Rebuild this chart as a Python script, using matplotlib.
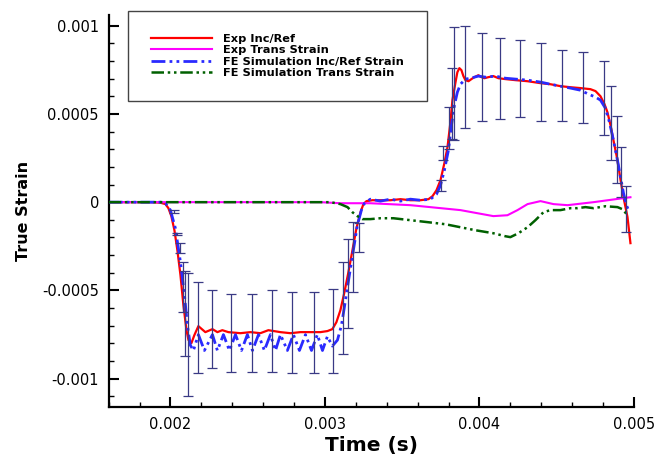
import matplotlib
matplotlib.use("Agg")
from matplotlib import pyplot as plt
from matplotlib.ticker import MultipleLocator

# Exp Inc/Ref
red_t = [0.0016, 0.00187, 0.001935, 0.001968, 0.001987, 0.002006, 0.002026, 0.002045, 0.002065, 0.002084,
         0.002104, 0.002117, 0.002136, 0.002155, 0.002181, 0.002226, 0.002272, 0.002304, 0.002336, 0.002375,
         0.002453, 0.002518, 0.002582, 0.002634, 0.002712, 0.002777, 0.002841, 0.002906, 0.002971, 0.003016,
         0.003048, 0.003074, 0.0031, 0.003126, 0.003152, 0.003178, 0.003204, 0.00323, 0.003249, 0.003269,
         0.003307, 0.003359, 0.003424, 0.003489, 0.003553, 0.003618, 0.00367, 0.003696, 0.003722, 0.003748,
         0.003773, 0.003793, 0.003812, 0.003825, 0.003845, 0.003857, 0.00387, 0.003883, 0.003896, 0.003909,
         0.003929, 0.003948, 0.003967, 0.003993, 0.004013, 0.004032, 0.004058, 0.00409, 0.004123, 0.004168,
         0.004233, 0.004311, 0.004395, 0.004459, 0.004524, 0.004589, 0.004654, 0.004718, 0.004751, 0.004783,
         0.004809, 0.004828, 0.004848, 0.004867, 0.004893, 0.004913, 0.004932, 0.004958, 0.004977]
red_e = [0, 0, -0.000003, -0.000011, -0.000034, -0.000079, -0.000159, -0.000272, -0.000413, -0.000583,
         -0.000725, -0.000781, -0.000798, -0.000753, -0.000702, -0.000736, -0.000719, -0.000736, -0.000725, -0.000736,
         -0.000742, -0.000736, -0.000742, -0.000725, -0.000736, -0.000742, -0.000736, -0.000736, -0.000736, -0.00073,
         -0.000719, -0.00068, -0.000612, -0.00051, -0.000396, -0.000272, -0.000147, -0.000057, -0.000011, 0.000006,
         0.000011, 0.000011, 0.000011, 0.000017, 0.000011, 0.000011, 0.000017, 0.000034, 0.000068, 0.000125,
         0.000221, 0.000311, 0.000453, 0.000578, 0.00068, 0.000736, 0.000759, 0.000748, 0.000714, 0.000691,
         0.000685, 0.000697, 0.000708, 0.000719, 0.000708, 0.000702, 0.000708, 0.000714, 0.000702, 0.000697,
         0.000691, 0.000685, 0.000674, 0.000668, 0.000657, 0.000651, 0.000646, 0.00064, 0.000629, 0.0006,
         0.000555, 0.00051, 0.000436, 0.000351, 0.000238, 0.000125, 0.000028, -0.000085, -0.000232]

# Exp Trans Strain
mag_t = [0.0016, 0.002971, 0.0031, 0.003294, 0.003553, 0.003877, 0.00409, 0.004181, 0.004246, 0.004311,
         0.004395, 0.004479, 0.00457, 0.004738, 0.004932, 0.004977]
mag_e = [0, 0, -0.000006, -0.000006, -0.000017, -0.000045, -0.000079, -0.000074, -0.000045, -0.000011,
         0.000006, -0.000011, -0.000017, 0, 0.000023, 0.000028]

# FE Simulation Inc/Ref Strain
fe_t = [0.0016, 0.00195, 0.001968, 0.002, 0.002032, 0.002065, 0.002091, 0.00211, 0.002129, 0.002149,
        0.002181, 0.00222, 0.002272, 0.002304, 0.002343, 0.002382, 0.002421, 0.00246, 0.002498, 0.002531,
        0.00257, 0.002608, 0.002647, 0.00268, 0.002712, 0.002757, 0.002796, 0.002835, 0.002874, 0.002913,
        0.002951, 0.002984, 0.003016, 0.003048, 0.003081, 0.003107, 0.003133, 0.003158, 0.003184, 0.00321,
        0.003236, 0.003256, 0.003294, 0.003359, 0.003424, 0.003489, 0.003553, 0.003618, 0.003683, 0.003722,
        0.003748, 0.003773, 0.003799, 0.003819, 0.003838, 0.003857, 0.003877, 0.003909, 0.003942, 0.003993,
        0.004039, 0.004103, 0.004168, 0.004233, 0.004311, 0.004395, 0.004459, 0.004524, 0.004589, 0.004654,
        0.004705, 0.004751, 0.004783, 0.004815, 0.004841, 0.004867, 0.004893, 0.004913, 0.004932, 0.004951,
        0.00497]
fe_e = [0, 0, -0.000006, -0.000045, -0.000147, -0.00034, -0.000527, -0.000697, -0.00081, -0.00084,
        -0.00075, -0.00084, -0.00075, -0.00084, -0.00075, -0.00084, -0.00075, -0.00084, -0.00075, -0.00084,
        -0.00075, -0.00084, -0.00075, -0.00084, -0.00075, -0.00084, -0.00075, -0.00084, -0.00075, -0.00084,
        -0.00075, -0.00084, -0.00076, -0.000815, -0.000781, -0.000697, -0.000555, -0.000413, -0.000272, -0.00013,
        -0.000045, -0.000006, 0.000017, 0.000006, 0.000017, 0.000006, 0.000017, 0.000011, 0.000017, 0.000045,
        0.000096, 0.000181, 0.000294, 0.000436, 0.000549, 0.000623, 0.000668, 0.000697, 0.000702, 0.000714,
        0.000708, 0.000714, 0.000702, 0.000697, 0.000691, 0.00068, 0.000668, 0.000657, 0.000646, 0.000634,
        0.000612, 0.000595, 0.000578, 0.000532, 0.000453, 0.000351, 0.000238, 0.000142, 0.000051, -0.000017,
        -0.000057]

# FE Simulation Trans Strain
fet_t = [0.0016, 0.003036, 0.0031, 0.003146, 0.003178, 0.00321, 0.003243, 0.003294, 0.003359, 0.003443,
         0.003553, 0.003663, 0.00378, 0.003877, 0.003974, 0.00409, 0.004168, 0.0042, 0.004252, 0.004311,
         0.004362, 0.004414, 0.004459, 0.004524, 0.004589, 0.004634, 0.004686, 0.004738, 0.004815, 0.004893,
         0.004926, 0.004958]
fet_e = [0, 0, -0.000011, -0.000028, -0.000057, -0.000079, -0.000096, -0.000096, -0.000091, -0.000091,
         -0.000102, -0.000113, -0.000125, -0.000142, -0.000159, -0.000176, -0.000193, -0.000198, -0.000176, -0.000142,
         -0.000102, -0.000057, -0.000045, -0.000045, -0.000034, -0.000034, -0.000028, -0.000034, -0.000023, -0.000028,
         -0.00004, -0.000074]

# error bars (experimental scatter)
eb_t = [0.00202, 0.002045, 0.002065, 0.002084, 0.002097, 0.002117, 0.002181, 0.002272, 0.002395, 0.002531,
        0.00266, 0.00279, 0.002926, 0.003055, 0.00312, 0.003152, 0.003184, 0.003223, 0.003748, 0.003767,
        0.0038, 0.003819, 0.003838, 0.003909, 0.004019, 0.004136, 0.004265, 0.004401, 0.004537, 0.004673,
        0.004803, 0.004854, 0.004893, 0.004919, 0.004951]
eb_mid = [-0.000054, -0.00018, -0.00026, -0.00048, -0.00063, -0.00075, -0.00071, -0.00072, -0.00074, -0.00074,
          -0.00073, -0.00074, -0.00074, -0.00073, -0.0006, -0.00046, -0.00031, -0.0002, 0.000096, 0.00028,
          0.00042, 0.00056, 0.00067, 0.00071, 0.00071, 0.0007, 0.0007, 0.00068, 0.00066, 0.00065,
          0.00059, 0.00045, 0.0003, 0.00017, -0.00004]
eb_half = [0.000009, 0.000006, 0.00003, 0.00014, 0.00024, 0.00035, 0.00026, 0.00022, 0.00022, 0.00022,
           0.00023, 0.00023, 0.00023, 0.00024, 0.00026, 0.00025, 0.0002, 0.00008, 0.00003, 0.00004,
           0.00012, 0.0002, 0.00032, 0.00029, 0.00025, 0.00023, 0.00022, 0.00022, 0.0002, 0.0002,
           0.00021, 0.00021, 0.00019, 0.00014, 0.00013]

xticks = [0.002, 0.003, 0.004, 0.005]
xtick_labels = ["0.002", "0.003", "0.004", "0.005"]
yticks = [-0.001, -0.0005, 0, 0.0005, 0.001]
ytick_labels = ["-0.001", "-0.0005", "0", "0.0005", "0.001"]

W, H = 657, 455
fig = plt.figure(figsize=(W / 100, H / 100), dpi=100)
ax = fig.add_axes([108.6 / W, 1 - 407 / H, (634 - 108.6) / W, (407 - 15) / H])

dashdotdot = (0, (5, 1.5, 1, 1.5, 1, 1.5))
ax.errorbar(eb_t, eb_mid, yerr=eb_half, fmt="none", ecolor="#3a3a85", elinewidth=0.9,
            capsize=3.5, capthick=0.9, zorder=4)
ax.plot(red_t, red_e, color="#ff0000", lw=1.6, label="Exp Inc/Ref", zorder=2)
ax.plot(mag_t, mag_e, color="#ff00ff", lw=1.5, label="Exp Trans Strain", zorder=2)
ax.plot(fe_t, fe_e, color="#2a2aff", lw=2, linestyle=dashdotdot,
        label="FE Simulation Inc/Ref Strain", zorder=3)
ax.plot(fet_t, fet_e, color="#006000", lw=1.8, linestyle=dashdotdot,
        label="FE Simulation Trans Strain", zorder=3)

ax.set_xlim(0.0016, 0.005)
ax.set_ylim(-0.00116, 0.00106)
ax.set_xticks(xticks, xtick_labels)
ax.set_yticks(yticks, ytick_labels)
ax.xaxis.set_minor_locator(MultipleLocator(0.0002))
ax.yaxis.set_minor_locator(MultipleLocator(0.0001))
ax.tick_params(which="major", direction="in", length=7, width=1.5, labelsize=10.5, pad=7)
ax.tick_params(which="minor", direction="in", length=3.5, width=1)
for s in ["top", "right"]:
    ax.spines[s].set_visible(False)
for s in ["left", "bottom"]:
    ax.spines[s].set_linewidth(1.6)

ax.set_xlabel("Time (s)", fontsize=14.5, fontweight="bold", labelpad=3)
ax.set_ylabel("True Strain", fontsize=11.5, fontweight="bold", labelpad=8)

leg = ax.legend(loc="upper left", bbox_to_anchor=(128 / W, 1 - 11 / H), bbox_transform=fig.transFigure,
                borderaxespad=0, fancybox=False, framealpha=1, edgecolor="#444444",
                prop={"size": 8.2, "weight": "bold"}, borderpad=2.05, handlelength=5.3,
                handletextpad=0.95, labelspacing=0.1)
leg.get_frame().set_linewidth(1)

fig.savefig("out.png", dpi=100)
